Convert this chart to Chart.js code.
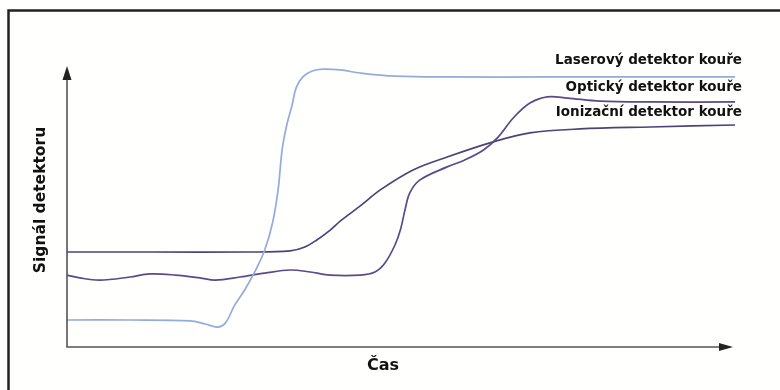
<!DOCTYPE html>
<html>
<head>
<meta charset="utf-8">
<script src="https://cdn.jsdelivr.net/npm/chart.js@4"></script>
<style>
  html, body { margin: 0; padding: 0; background: #fff; }
  #wrap { width: 780px; height: 390px; }
</style>
</head>
<body>
<div id="wrap"><canvas id="graf"></canvas></div>
<script>
/* ---------- Data (cas 0-100, signal 0-100) ---------- */
const nazvy = ["Laserový detektor kouře", "Optický detektor kouře", "Ionizační detektor kouře"];

const casLaser    = [0, 9.4, 18.4, 20.7, 22.5, 23.7, 25.1, 26.6, 28.1, 29.6, 30.8, 31.6, 32.2, 32.9, 33.7, 34.3, 35.3, 36.7, 38.3, 40.9, 43.9, 49.1, 57.3, 72.3, 87.3, 100];
const signalLaser = [9.6, 9.6, 9.3, 8.2, 7.1, 8.5, 14.9, 20.3, 26.7, 34.5, 44.5, 55.9, 70.1, 79.0, 86.1, 92.2, 96.1, 98.2, 98.9, 98.6, 97.5, 96.4, 96.1, 96.1, 96.1, 96.1];

const casOpticky    = [0, 1.9, 4.9, 9.4, 12.4, 16.2, 19.9, 22.2, 25.9, 29.6, 33.4, 36.4, 39.4, 43.9, 46.1, 47.6, 49.1, 49.9, 50.6, 51.3, 52.8, 56.9, 59.4, 62.3, 64.5, 66.8, 69.3, 71.9, 74.9, 79.8, 87.3, 100];
const signalOpticky = [25.6, 24.6, 23.8, 24.9, 26.0, 25.6, 24.6, 23.8, 24.9, 26.3, 27.4, 26.7, 25.6, 25.6, 26.7, 29.9, 36.3, 41.6, 48.8, 54.8, 59.4, 64.1, 66.4, 70.0, 74.6, 81.5, 86.8, 89.0, 88.6, 87.5, 87.2, 87.2];

const casIonizacni    = [0, 12.4, 27.4, 33.4, 35.6, 37.4, 39.4, 40.9, 43.9, 46.9, 51.8, 56.9, 63.8, 69.3, 76.8, 87.3, 100];
const signalIonizacni = [33.8, 33.8, 33.8, 34.2, 35.6, 38.1, 41.6, 44.8, 50.2, 55.9, 63.0, 67.6, 73.0, 76.2, 77.6, 78.3, 79.0];

// vyska popisku u praveho okraje (v jednotkach signalu)
const popiskyY = [102.1, 92.2, 83.6];

const barvy = ["#93abdd", "#5a4a88", "#4f4278"];

function body(xs, ys) {
  return xs.map((x, i) => ({ x: x, y: ys[i] }));
}

/* ---------- Osy se sipkami, ramecek, texty ---------- */
const kresba = {
  id: "kresba",
  beforeDraw(chart) {
    const c = chart.ctx;
    c.save();
    c.fillStyle = "#fffffd";
    c.fillRect(0, 0, chart.width, chart.height);
    // ramecek (jen horni a leva hrana je videt)
    c.strokeStyle = "#222";
    c.lineWidth = 2.5;
    c.beginPath();
    c.moveTo(8.5, chart.height);
    c.lineTo(8.5, 10.5);
    c.lineTo(chart.width, 10.5);
    c.stroke();
    c.restore();
  },
  afterDraw(chart) {
    const c = chart.ctx;
    const a = chart.chartArea;
    const y = chart.scales.y;
    const x0 = a.left, y0 = a.bottom;
    const xEnd = a.right - 2;

    c.save();
    c.strokeStyle = "#555";
    c.fillStyle = "#222";
    c.lineWidth = 1.6;
    c.beginPath();
    c.moveTo(x0, a.top + 6);
    c.lineTo(x0, y0);
    c.lineTo(xEnd - 6, y0);
    c.stroke();
    // sipka y
    c.beginPath();
    c.moveTo(x0, a.top);
    c.lineTo(x0 - 4.5, a.top + 14);
    c.lineTo(x0 + 4.5, a.top + 14);
    c.closePath();
    c.fill();
    // sipka x
    c.beginPath();
    c.moveTo(xEnd, y0);
    c.lineTo(xEnd - 14, y0 - 4);
    c.lineTo(xEnd - 14, y0 + 4);
    c.closePath();
    c.fill();

    // popisky krivek
    c.fillStyle = "#111";
    c.font = "bold 13.5px 'DejaVu Sans'";
    c.textAlign = "right";
    c.textBaseline = "middle";
    nazvy.forEach((n, i) => {
      c.fillText(n, a.right + 7, y.getPixelForValue(popiskyY[i]));
    });

    // nazvy os
    c.font = "bold 16px 'DejaVu Sans'";
    c.textAlign = "center";
    c.fillText("Čas", 383, 366);
    c.translate(41, 200);
    c.rotate(-Math.PI / 2);
    c.font = "bold 15.5px 'DejaVu Sans'";
    c.fillText("Signál detektoru", 0, 0);
    c.restore();
  }
};

/* ---------- Graf ---------- */
const serie = [
  body(casLaser, signalLaser),
  body(casOpticky, signalOpticky),
  body(casIonizacni, signalIonizacni)
];

new Chart(document.getElementById("graf"), {
  type: "line",
  data: {
    datasets: serie.map((d, i) => ({
      label: nazvy[i],
      data: d,
      borderColor: barvy[i],
      borderWidth: 1.7,
      pointRadius: 0,
      fill: false,
      tension: 0.35,
      clip: false
    }))
  },
  options: {
    responsive: true,
    maintainAspectRatio: false,
    animation: false,
    layout: { padding: { left: 67, top: 66, right: 45, bottom: 43 } },
    plugins: { legend: { display: false }, tooltip: { enabled: false } },
    scales: {
      x: { type: "linear", min: 0, max: 100, display: false },
      y: { min: 0, max: 100, display: false }
    }
  },
  plugins: [kresba]
});
</script>
</body>
</html>
